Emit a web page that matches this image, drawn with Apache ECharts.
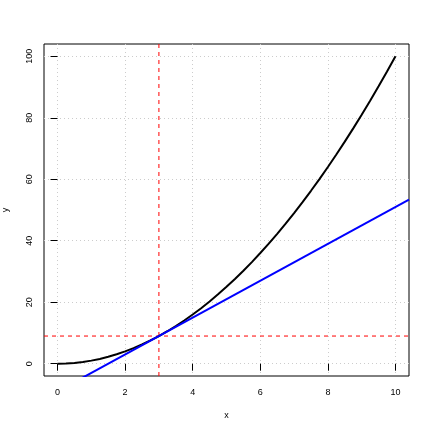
<!DOCTYPE html>
<html>
<head>
<meta charset="utf-8">
<script src="https://cdn.jsdelivr.net/npm/echarts@6/dist/echarts.min.js"></script>
<style>html,body{margin:0;padding:0;background:#fff;}#c{width:432px;height:432px;}</style>
</head>
<body>
<div id="c"></div>
<script>
// Curve values (y = x^2 shape)
const curveX = [0,0.25,0.5,0.75,1,1.25,1.5,1.75,2,2.25,2.5,2.75,3,3.25,3.5,3.75,4,4.25,4.5,4.75,5,5.25,5.5,5.75,6,6.25,6.5,6.75,7,7.25,7.5,7.75,8,8.25,8.5,8.75,9,9.25,9.5,9.75,10];
const curveY = [0,0.06,0.25,0.56,1,1.56,2.25,3.06,4,5.06,6.25,7.56,9,10.56,12.25,14.06,16,18.06,20.25,22.56,25,27.56,30.25,33.06,36,39.06,42.25,45.56,49,52.56,56.25,60.06,64,68.06,72.25,76.56,81,85.56,90.25,95.06,100];
// Tangent line endpoints (clipped by plot area)
const tangentX = [-0.4, 10.4];
const tangentY = [-11.4, 53.4];
// Reference lines
const vLineX = 3;
const hLineY = 9;
// Axis ticks
const xTicks = [0,2,4,6,8,10];
const yTicks = [0,20,40,60,80,100];
const xRange = [-0.4, 10.4];
const yRange = [-4, 104];

const font = 'Liberation Sans, Arial, sans-serif';
const chart = echarts.init(document.getElementById('c'));
chart.setOption({
  animation: false,
  backgroundColor: '#fff',
  grid: {left: 44, top: 44, right: 23, bottom: 56, outerBoundsMode: 'none', containLabel: false,
         show: true, borderColor: '#000', borderWidth: 1, backgroundColor: 'transparent'},
  xAxis: {
    type: 'value', min: xRange[0], max: xRange[1],
    name: 'x', nameLocation: 'middle', nameGap: 35,
    nameTextStyle: {fontFamily: font, fontSize: 9, color: '#000'},
    axisLine: {show: false},
    axisTick: {show: true, inside: false, length: 7, customValues: xTicks, lineStyle: {color: '#000'}},
    axisLabel: {customValues: xTicks, margin: 12, fontFamily: font, fontSize: 9, color: '#000'},
    splitLine: {show: true, lineStyle: {color: '#cccccc', type: [1, 3], width: 1}}
  },
  yAxis: {
    type: 'value', min: yRange[0], max: yRange[1],
    name: 'y', nameLocation: 'middle', nameGap: 34, nameRotate: 90,
    nameTextStyle: {fontFamily: font, fontSize: 9, color: '#000'},
    axisLine: {show: false},
    axisTick: {show: true, inside: false, length: 7, customValues: yTicks, lineStyle: {color: '#000'}},
    axisLabel: {customValues: yTicks, rotate: 90, margin: 10, fontFamily: font, fontSize: 9, color: '#000'},
    splitLine: {show: true, lineStyle: {color: '#cccccc', type: [1, 3], width: 1}}
  },
  series: [
    {type: 'line', data: [[vLineX, yRange[0]], [vLineX, yRange[1]]], symbol: 'none', clip: true,
     lineStyle: {color: '#ff0000', width: 1, type: [4, 4]}},
    {type: 'line', data: [[xRange[0], hLineY], [xRange[1], hLineY]], symbol: 'none', clip: true,
     lineStyle: {color: '#ff0000', width: 1, type: [4, 4]}},
    {type: 'line', data: curveX.map((x, i) => [x, curveY[i]]), symbol: 'none', smooth: false, clip: true,
     lineStyle: {color: '#000', width: 2}},
    {type: 'line', data: tangentX.map((x, i) => [x, tangentY[i]]), symbol: 'none', clip: true,
     lineStyle: {color: '#0000ff', width: 2}}
  ]
});
</script>
</body>
</html>
